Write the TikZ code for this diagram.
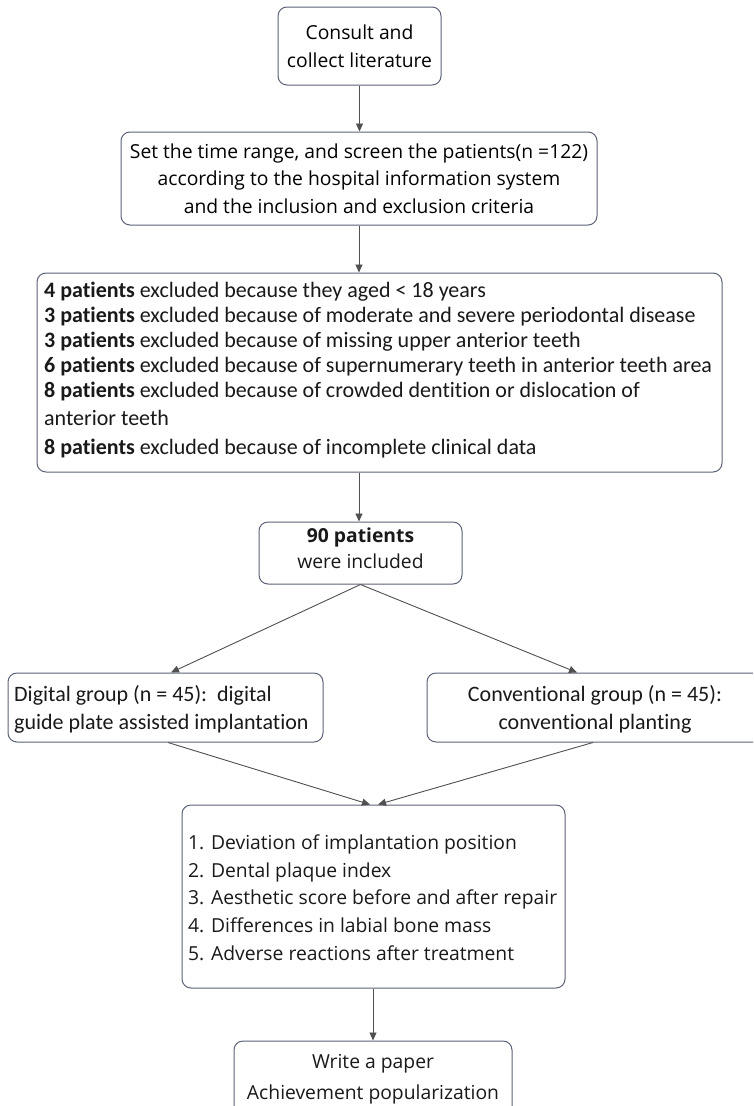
\documentclass[tikz,border=0pt]{standalone}
\usepackage{fontspec}
\setmainfont[Ligatures=NoCommon]{Open Sans}
\newfontfamily\narrowfont[Ligatures=NoCommon]{Carlito}
\usetikzlibrary{arrows.meta,calc}
\definecolor{boxline}{HTML}{5C6278}
\definecolor{arrline}{HTML}{505050}
\begin{document}
\begin{tikzpicture}[x=1pt,y=-1pt,
  box/.style={draw=boxline,line width=1pt,rounded corners=9pt,inner sep=0pt},
  txt/.style={inner sep=0pt,text=black!90},
  arr/.style={draw=arrline,line width=0.9pt,-{Triangle[length=8pt,width=7pt]}},
  main/.style={font=\fontsize{19.3}{28}\selectfont},
  narrow/.style={font=\narrowfont\fontsize{22}{25}\selectfont}]
\useasboundingbox (0,0) rectangle (753,1106);
\fill[white] (0,0) rectangle (753,1106);
\begin{scope}
\clip (0,0) rectangle (753,1106);
% boxes
\node[box,main,minimum width=163pt,minimum height=78pt,align=center] (b1) at (359.5,46) {Consult and\\collect literature};
\node[box,main,minimum width=476pt,minimum height=93pt,align=center,font=\fontsize{19.3}{27.5}\selectfont] (b2) at (359,178.5) {Set the time range, and screen the patients(n =122)\\according to the hospital information system\\and the inclusion and exclusion criteria};
\node[box,minimum width=685pt,minimum height=199pt] (b3) at (379.5,372.5) {};
\node[txt,narrow,align=left,anchor=west] (t3) at (44,370) {\textbf{4 patients} excluded because they aged < 18 years\\
\textbf{3 patients} excluded because of moderate and severe periodontal disease\\
\textbf{3 patients} excluded because of missing upper anterior teeth\\
\textbf{6 patients} excluded because of supernumerary teeth in anterior teeth area\\
\textbf{8 patients} excluded because of crowded dentition or dislocation of\\[3.5pt]
anterior teeth\\[4pt]
\textbf{8 patients} excluded because of incomplete clinical data};
\node[box,minimum width=203pt,minimum height=62pt] (b4) at (360.5,553) {};
\node[txt,main,align=center,font=\fontsize{19.3}{26}\selectfont] (t4) at (360.5,548) {\textbf{90 patients}\\were included};
\node[box,minimum width=315pt,minimum height=69pt] (b5) at (165.5,707.5) {};
\node[txt,narrow,align=left,anchor=west,font=\narrowfont\fontsize{22}{28}\selectfont] (t5) at (14,709) {Digital group (n = 45):\ \ digital\\guide plate assisted implantation};
\node[box,minimum width=336pt,minimum height=69pt] (b6) at (595,707.5) {};
\node[txt,narrow,align=center,font=\narrowfont\fontsize{22}{28}\selectfont] (t6) at (595,709) {Conventional group (n = 45):\\conventional planting};
\node[box,minimum width=383pt,minimum height=183pt] (b7) at (373.5,896.5) {};
\node[txt,align=left,anchor=west,font=\fontsize{19.3}{27.75}\selectfont] (t7) at (188,897.5) {1. Deviation of implantation position\\2. Dental plaque index\\3. Aesthetic score before and after repair\\4. Differences in labial bone mass\\5. Adverse reactions after treatment};
\node[box,minimum width=278pt,minimum height=75pt] (b8) at (373,1078.5) {};
\node[txt,align=center,font=\fontsize{19.3}{31}\selectfont] (t8) at (373,1079.5) {Write a paper\\Achievement popularization};
% connectors
\draw[arr] (b1.south) -- (b2.north -| b1.south);
\draw[arr] (b2.south) -- (b3.north -| b2.south);
\draw[arr] (b3.south -| b2.south) -- (b4.north -| b2.south);
\draw[arr] (b4.south) -- ([xshift=5.5pt]b5.north);
\draw[arr] (b4.south) -- ([xshift=-18pt]b6.north);
\draw[arr] ([xshift=2.5pt]b5.south) -- ([xshift=-3.5pt]b7.north);
\draw[arr] ([xshift=-2pt]b6.south) -- ([xshift=4.5pt]b7.north);
\draw[arr] (b7.south -| b8.north) -- (b8.north);
\end{scope}
\end{tikzpicture}
\end{document}
